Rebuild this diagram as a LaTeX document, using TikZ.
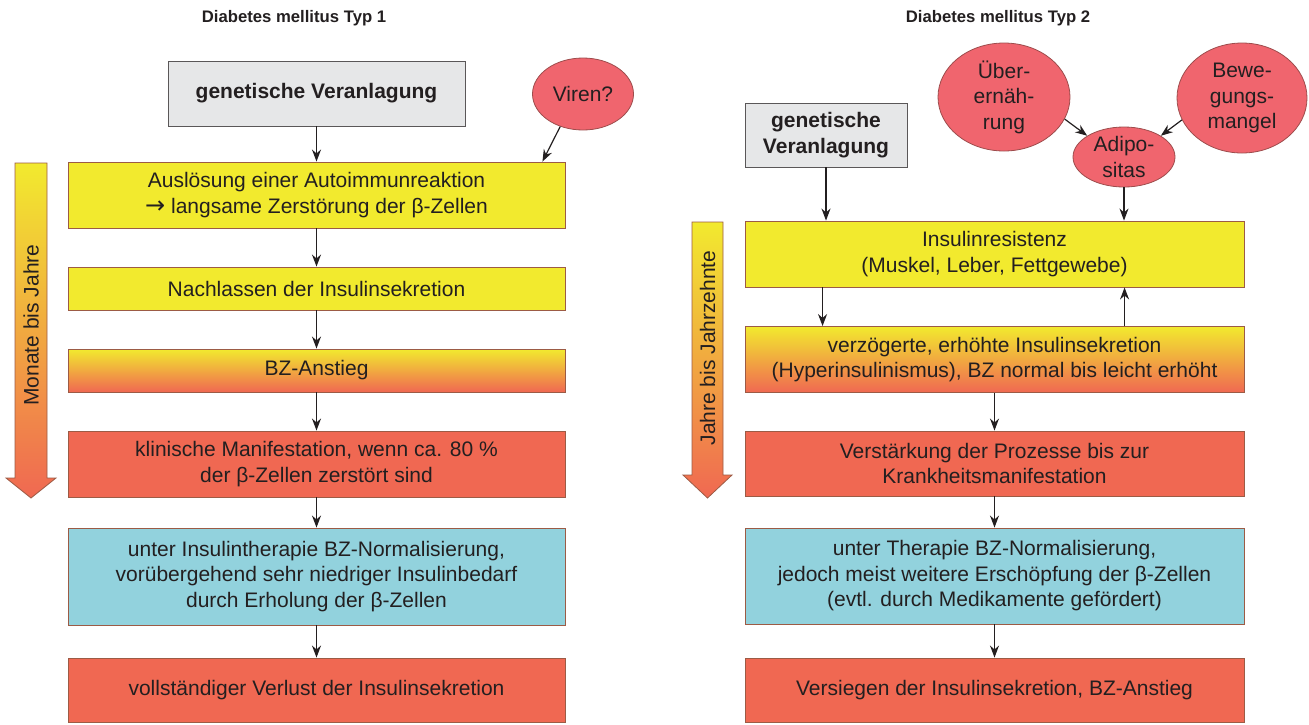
\documentclass[tikz,border=0pt]{standalone}
\usepackage{fontspec}
\setmainfont{Liberation Sans}
\newfontfamily\symfnt{DejaVu Sans}
\usetikzlibrary{arrows.meta,shapes.geometric,calc}
\definecolor{yel}{HTML}{F2EA2E}
\definecolor{redbox}{HTML}{F06852}
\definecolor{bluebox}{HTML}{92D2DD}
\definecolor{graybox}{HTML}{E6E7E8}
\definecolor{ellred}{HTML}{F0656E}
\definecolor{brd}{HTML}{9C5B45}
\definecolor{txt}{HTML}{231F20}
\tikzset{
  base/.style={draw=brd, line width=0.9pt, align=center, text=txt, inner sep=0pt,
    font=\fontsize{21}{25.5}\selectfont},
  ybox/.style={base, fill=yel, minimum width=#1},
  rbox/.style={base, fill=redbox, minimum width=#1},
  bbox/.style={base, fill=bluebox, minimum width=#1},
  gbox/.style={base, top color=yel, bottom color=redbox, minimum width=#1},
  genbox/.style={base, draw=txt!75, fill=graybox, font=\fontsize{21}{26}\selectfont\bfseries},
  ell/.style={ellipse, draw=red!45!black!70, line width=0.8pt, fill=ellred, text=txt, align=center,
    inner sep=0pt, font=\fontsize{21}{25.5}\selectfont},
  arr/.style={-{Stealth[length=12pt,width=9pt]}, line width=1.2pt, draw=txt},
  ttl/.style={font=\fontsize{16.7}{20}\selectfont\bfseries, text=txt},
  side/.style={draw=brd, line width=0.8pt, top color=yel, bottom color=redbox},
  sidetxt/.style={rotate=90, text=txt, font=\fontsize{21}{25}\selectfont}
}
\begin{document}
\begin{tikzpicture}[x=1pt,y=-1pt]
\useasboundingbox (0,0) rectangle (1309,724);
% titles
\node[ttl] (t1) at (294,18) {Diabetes mellitus Typ 1};
\node[ttl] (t2) at (998,18) {Diabetes mellitus Typ 2};

% ---------- left column ----------
\node[genbox, minimum width=297, minimum height=65] (lgen) at (316.5,93.5) {genetische Veranlagung};
\node[ell, minimum width=101, minimum height=72] (viren) at (583,94) {Viren?};
\node[ybox=497, minimum height=66] (l1) at (316.5,195) {Auslösung einer Autoimmunreaktion\\{\symfnt\fontsize{24}{25.5}\selectfont →} langsame Zerstörung der β-Zellen};
\node[ybox=497, minimum height=43] (l2) at (316.5,288.5) {Nachlassen der Insulinsekretion};
\node[gbox=497, minimum height=43] (l3) at (316.5,370.5) {BZ-Anstieg};
\node[rbox=497, minimum height=66] (l4) at (316.5,464) {klinische Manifestation, wenn ca. 80 \%\\der β-Zellen zerstört sind};
\node[bbox=497, minimum height=97] (l5) at (316.5,576.5) {unter Insulintherapie BZ-Normalisierung,\\vorübergehend sehr niedriger Insulinbedarf\\durch Erholung der β-Zellen};
\node[rbox=497, minimum height=64] (l6) at (316.5,690) {vollständiger Verlust der Insulinsekretion};

\draw[arr] (lgen.south) -- (l1.north);
\draw[arr] (viren.-125) -- ([xshift=-23pt]l1.north east);
\draw[arr] (l1.south) -- (l2.north);
\draw[arr] (l2.south) -- (l3.north);
\draw[arr] (l3.south) -- (l4.north);
\draw[arr] (l4.south) -- (l5.north);
\draw[arr] (l5.south) -- (l6.north);

% left side arrow
\path[side] (15,163) -- (47,163) -- (47,478) -- (56,478) -- (31,498) -- (6,478) -- (15,478) -- cycle;
\node[sidetxt] (s1) at (31,325) {Monate bis Jahre};

% ---------- right column ----------
\node[genbox, minimum width=162, minimum height=64] (rgen) at (826,135) {genetische\\Veranlagung};
\node[ell, minimum width=132, minimum height=108] (uber) at (1004,97) {Über-\\ernäh-\\rung};
\node[ell, minimum width=130, minimum height=110] (bew) at (1242,98) {Bewe-\\gungs-\\mangel};
\node[ell, minimum width=102, minimum height=60] (adip) at (1124,157) {Adipo-\\sitas};
\node[ybox=499, minimum height=66] (r1) at (994.5,254) {Insulinresistenz\\(Muskel, Leber, Fettgewebe)};
\node[gbox=499, minimum height=66] (r2) at (994.5,359.5) {verzögerte, erhöhte Insulinsekretion\\(Hyperinsulinismus), BZ normal bis leicht erhöht};
\node[rbox=499, minimum height=65] (r3) at (994.5,463.5) {Verstärkung der Prozesse bis zur\\Krankheitsmanifestation};
\node[bbox=499, minimum height=96] (r4) at (994.5,576) {unter Therapie BZ-Normalisierung,\\jedoch meist weitere Erschöpfung der β-Zellen\\(evtl. durch Medikamente gefördert)};
\node[rbox=499, minimum height=64] (r5) at (994.5,690) {Versiegen der Insulinsekretion, BZ-Anstieg};

\draw[arr] (uber.-20) -- (adip.150);
\draw[arr] (bew.-160) -- (adip.30);
\draw[arr] (adip.south) -- (adip.south |- r1.north);
\draw[arr] (rgen.south) -- (rgen.south |- r1.north);
\draw[arr] ([xshift=78pt]r1.south west) -- ([xshift=78pt]r2.north west);
\draw[arr] ([xshift=380pt]r2.north west) -- ([xshift=380pt]r1.south west);
\draw[arr] (r2.south) -- (r3.north);
\draw[arr] (r3.south) -- (r4.north);
\draw[arr] (r4.south) -- (r5.north);

% right side arrow
\path[side] (692,222) -- (723,222) -- (723,475) -- (732,475) -- (707.5,498) -- (683,475) -- (692,475) -- cycle;
\node[sidetxt] (s2) at (707.5,348) {Jahre bis Jahrzehnte};
\end{tikzpicture}
\end{document}
